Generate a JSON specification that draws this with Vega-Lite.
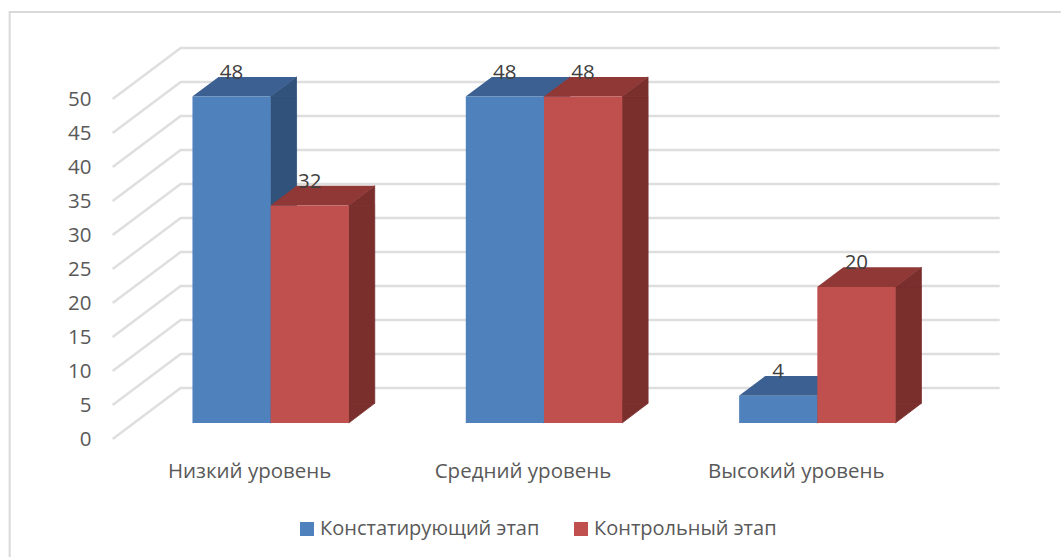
{
"$schema":"https://vega.github.io/schema/vega-lite/v6.json",
"width":820,"height":391,
"autosize":{"type":"none"},
"padding":{"left":113,"top":48,"right":128,"bottom":118},
"background":"white",
"config":{"view":{"stroke":null},"font":"Open Sans"},
"datasets":{
"bars":[
{"level":"Низкий уровень","series":"Констатирующий этап","value":48},
{"level":"Низкий уровень","series":"Контрольный этап","value":32},
{"level":"Средний уровень","series":"Констатирующий этап","value":48},
{"level":"Средний уровень","series":"Контрольный этап","value":48},
{"level":"Высокий уровень","series":"Констатирующий этап","value":4},
{"level":"Высокий уровень","series":"Контрольный этап","value":20}],
"ticks":[{"t":0},{"t":5},{"t":10},{"t":15},{"t":20},{"t":25},{"t":30},{"t":35},{"t":40},{"t":45},{"t":50}]
},
"encoding":{
"x":{"field":"level","type":"nominal","sort":["Низкий уровень","Средний уровень","Высокий уровень"],
 "scale":{"paddingInner":0,"paddingOuter":0},
 "axis":{"title":null,"domain":false,"ticks":false,"labelAngle":0,"labelFontSize":20.5,"labelColor":"#595959","labelPadding":22}},
"y":{"type":"quantitative","scale":{"domain":[0,57.5],"nice":false},
 "axis":{"values":[0,5,10,15,20,25,30,35,40,45,50],"title":null,"domain":false,"ticks":false,"grid":false,"labelFontSize":20.5,"labelColor":"#595959","labelPadding":22}}
},
"layer":[
{"data":{"name":"ticks"},
 "mark":{"type":"point","shape":"M-137,0 L-69,-51 L750,-51","size":4,"filled":false,"stroke":"#dedede","strokeWidth":2.4,"opacity":1},
 "encoding":{"x":{"datum":"Низкий уровень"},"y":{"field":"t","type":"quantitative"}}},
{"data":{"values":[{"f":1}]},
 "mark":{"type":"point","shape":"M-240,560 L-240,-427 L811,-427","size":4,"filled":false,"stroke":"#d9d9d9","strokeWidth":2,"opacity":1},
 "encoding":{"x":{"datum":"Низкий уровень"},"y":{"datum":0}}},
{"data":{"name":"bars"},
 "mark":{"type":"bar","width":26,"yOffset":-16,"y2Offset":-35.7,"strokeWidth":0.8},
 "encoding":{"xOffset":{"field":"series","scale":{"range":[73,346.33],"paddingOuter":0.7477,"paddingInner":0}},
  "y":{"field":"value","type":"quantitative"},"y2":{"datum":0},
  "stroke":{"field":"series","legend":null,"scale":{"range":["#31527b","#7a2f2d"]}},
  "color":{"field":"series","legend":null,"scale":{"range":["#31527b","#7a2f2d"]}}}},
{"data":{"name":"bars"},
 "mark":{"type":"point","shape":"M39,0 L65,-19.7 L65,0 Z","size":4,"filled":true,"opacity":1,"yOffset":-16,"strokeWidth":0.8},
 "encoding":{"xOffset":{"field":"series","scale":{"range":[118.5,196.7],"paddingOuter":0}},
  "y":{"field":"value","type":"quantitative"},
  "stroke":{"field":"series","legend":null,"scale":{"range":["#31527b","#7a2f2d"]}},
  "color":{"field":"series","legend":null,"scale":{"range":["#31527b","#7a2f2d"]}}}},
{"data":{"name":"bars"},
 "mark":{"type":"point","shape":"M39,0 L65,-19.7 L39,-19.7 Z","size":4,"filled":true,"opacity":1,"yOffset":-16,"strokeWidth":0.8},
 "encoding":{"xOffset":{"field":"series","scale":{"range":[118.5,196.7],"paddingOuter":0}},
  "y":{"datum":0},
  "stroke":{"field":"series","legend":null,"scale":{"range":["#31527b","#7a2f2d"]}},
  "color":{"field":"series","legend":null,"scale":{"range":["#31527b","#7a2f2d"]}}}},
{"data":{"name":"bars"},
 "mark":{"type":"point","shape":"M-39.2,0 L39.2,0 L65,-19.7 L-13,-19.7 Z","size":4,"filled":true,"opacity":1,"yOffset":-16},
 "encoding":{"xOffset":{"field":"series","scale":{"range":[118.5,196.7],"paddingOuter":0}},
  "y":{"field":"value","type":"quantitative"},
  "color":{"field":"series","legend":null,"scale":{"range":["#3b6091","#8f3836"]}}}},
{"data":{"name":"bars"},
 "mark":{"type":"bar","width":78.2,"yOffset":-16,"y2Offset":-16},
 "encoding":{"xOffset":{"field":"series","scale":{"range":[21,294.33],"paddingOuter":0.7477,"paddingInner":0}},
  "y":{"field":"value","type":"quantitative"},"y2":{"datum":0},
  "color":{"field":"series","title":null,"scale":{"range":["#4f81bd","#c0504d"]},
   "legend":{"orient":"none","legendX":184,"legendY":471,"direction":"horizontal","columns":2,"symbolType":"square","symbolSize":196,"symbolStrokeWidth":0,"labelFontSize":20,"labelColor":"#595959","labelOffset":3,"columnPadding":31,"labelLimit":400,"padding":0}}}},
{"data":{"name":"bars"},
 "mark":{"type":"text","fontSize":20.5,"color":"#404040","baseline":"alphabetic","yOffset":-33.6},
 "encoding":{"xOffset":{"field":"series","scale":{"range":[118.5,196.7],"paddingOuter":0}},
  "y":{"field":"value","type":"quantitative"},
  "text":{"field":"value","type":"quantitative"}}}
],
"resolve":{"scale":{"color":"independent","xOffset":"independent"}}
}
